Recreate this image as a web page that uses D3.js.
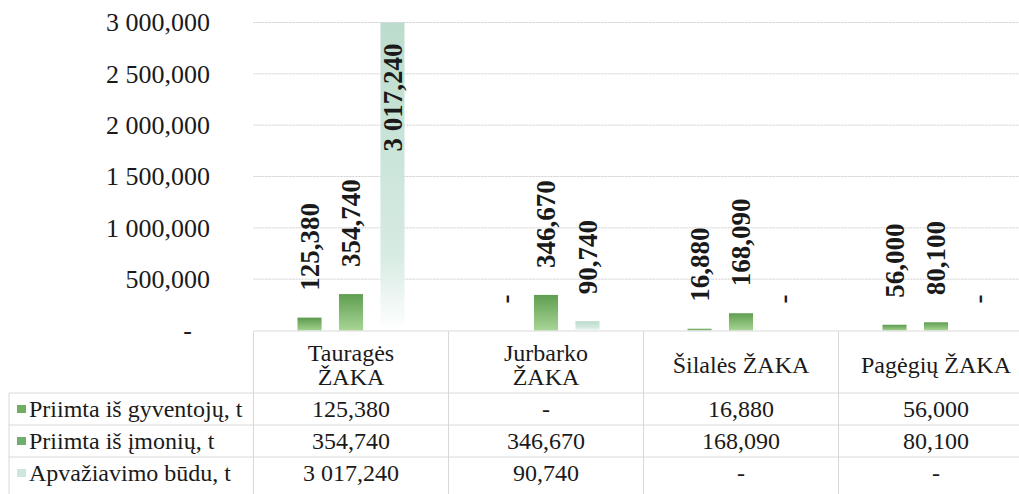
<!DOCTYPE html>
<html>
<head>
<meta charset="utf-8">
<script src="https://cdn.jsdelivr.net/npm/d3@7"></script>
<style>
  body { margin: 0; background: #fff; }
  svg { display: block; font-family: "Liberation Serif", "Times New Roman", serif; }
</style>
</head>
<body>
<div class="chart"></div>
<script>
const categories = ["Tauragės ŽAKA", "Jurbarko ŽAKA", "Šilalės ŽAKA", "Pagėgių ŽAKA"];
const headerLines = [["Tauragės", "ŽAKA"], ["Jurbarko", "ŽAKA"], ["Šilalės ŽAKA"], ["Pagėgių ŽAKA"]];
const seriesNames = ["Priimta iš gyventojų, t", "Priimta iš įmonių, t", "Apvažiavimo būdu, t"];
const gyventojai = [125.38, 0, 16.88, 56.0];
const imones = [354.74, 346.67, 168.09, 80.1];
const apvaziavimas = [3017.24, 90.74, 0, 0];
const yTicks = [0, 500, 1000, 1500, 2000, 2500, 3000];

const seriesValues = [gyventojai, imones, apvaziavimas];

const W = 1019, H = 494;
const left = 253.5, step = 195;
const plotTop = 22.5, base = 330.5;

const lt = d3.formatLocale({decimal: ",", thousands: " ", grouping: [3], currency: ["", ""]});
const num = lt.format(",.3f");
const fmt = v => v === 0 ? "-" : num(v);

const svg = d3.select(".chart").append("svg")
    .attr("width", W)
    .attr("height", H);

const defs = svg.append("defs");
function grad(id, stops) {
    const g = defs.append("linearGradient").attr("id", id)
        .attr("x1", 0).attr("y1", 0).attr("x2", 0).attr("y2", 1);
    stops.forEach(s => g.append("stop").attr("offset", s[0]).attr("stop-color", s[1]));
}
grad("g0", [[0, "#5a9a4c"], [1, "#a3d18f"]]);
grad("g1", [[0, "#5f9e50"], [1, "#a8d596"]]);
grad("g2", [[0, "#bcdccd"], [0.75, "#d6ebe2"], [1, "#ffffff"]]);
const legendColors = ["#72ad64", "#6fae70", "#cfe6df"];

const x0 = d3.scaleBand()
    .domain(categories)
    .range([left, left + step * categories.length]);

const x1 = d3.scaleBand()
    .domain(d3.range(seriesNames.length))
    .range([step / 2 - 53.5, step / 2 + 53.5])
    .paddingInner(0.42);

const y = d3.scaleLinear()
    .domain([0, 3000])
    .range([base, plotTop]);

// gridlines
svg.append("g")
    .selectAll("line")
    .data(yTicks.filter(d => d > 0))
    .enter()
    .append("line")
    .attr("x1", left).attr("x2", W)
    .attr("y1", d => y(d)).attr("y2", d => y(d))
    .attr("stroke", "#cfcfcf")
    .attr("stroke-dasharray", "2,1");

// y labels
const yAxis = d3.axisLeft(y)
    .tickValues(yTicks)
    .tickSize(0)
    .tickPadding(0)
    .tickFormat(fmt);

const ya = svg.append("g")
    .attr("transform", "translate(210,0)")
    .call(yAxis);
ya.select(".domain").remove();
ya.selectAll("text")
    .attr("font-size", "26px")
    .attr("font-family", "Liberation Serif, serif")
    .attr("fill", "#1a1a1a")
    .attr("dx", d => d === 0 ? -18 : 0);

// bars
const plot = svg.append("g");

const groups = plot.selectAll(".grp")
    .data(categories)
    .enter()
    .append("g")
    .attr("class", "grp")
    .attr("transform", d => `translate(${x0(d)},0)`);

groups.selectAll("rect")
    .data((c, ci) => seriesValues.map((vals, si) => ({si: si, v: vals[ci]})))
    .enter()
    .append("rect")
    .attr("x", d => x1(d.si))
    .attr("width", x1.bandwidth())
    .attr("y", d => y(Math.min(d.v, 3000)))
    .attr("height", d => base - y(Math.min(d.v, 3000)))
    .attr("fill", d => `url(#g${d.si})`);

groups.selectAll("text")
    .data((c, ci) => seriesValues.map((vals, si) => ({si: si, v: vals[ci]})))
    .enter()
    .append("text")
    .attr("transform", d => {
        const cx = x1(d.si) + x1.bandwidth() / 2;
        const yy = d.v > 3000 ? plotTop + 21 : y(d.v) - 27;
        return `translate(${cx},${yy}) rotate(-90)`;
    })
    .attr("dy", "0.35em")
    .attr("text-anchor", d => d.v > 3000 ? "end" : "start")
    .attr("font-size", "27px")
    .attr("font-weight", "bold")
    .attr("fill", "#1a1a1a")
    .text(d => fmt(d.v));

// data table
const rowTop = 331, headBottom = 393, rowH = 32;
const lineColor = "#d9d9d9";
const tbl = svg.append("g");

tbl.append("line")
    .attr("x1", left).attr("x2", W).attr("y1", rowTop).attr("y2", rowTop)
    .attr("stroke", lineColor);

seriesNames.forEach((s, i) => {
    const yy = headBottom + i * rowH;
    tbl.append("line")
        .attr("x1", 9).attr("x2", W).attr("y1", yy).attr("y2", yy)
        .attr("stroke", lineColor);
});

tbl.append("line")
    .attr("x1", 9).attr("x2", 9).attr("y1", headBottom).attr("y2", H)
    .attr("stroke", lineColor);

tbl.selectAll(".vline")
    .data(categories)
    .enter()
    .append("line")
    .attr("class", "vline")
    .attr("x1", d => x0(d)).attr("x2", d => x0(d))
    .attr("y1", rowTop).attr("y2", H)
    .attr("stroke", lineColor);

// header cells
tbl.selectAll(".head")
    .data(categories)
    .enter()
    .append("text")
    .attr("class", "head")
    .attr("x", d => x0(d) + step / 2)
    .attr("y", (d, i) => headerLines[i].length > 1 ? 361 : 373)
    .attr("text-anchor", "middle")
    .attr("font-size", "24px")
    .attr("fill", "#1a1a1a")
    .each(function(d, i) {
        const t = d3.select(this);
        headerLines[i].forEach((ln, k) => {
            t.append("tspan")
                .attr("x", x0(d) + step / 2)
                .attr("dy", k === 0 ? 0 : 24)
                .text(ln);
        });
    });

// legend keys + row labels
seriesNames.forEach((s, i) => {
    const cy = headBottom + i * rowH + rowH / 2;
    tbl.append("rect")
        .attr("x", 17).attr("y", cy - 4)
        .attr("width", 9).attr("height", 8)
        .attr("fill", legendColors[i]);
    tbl.append("text")
        .attr("x", 29).attr("y", cy + 8)
        .attr("font-size", "24px")
        .attr("fill", "#1a1a1a")
        .text(s);
    tbl.selectAll(".cell" + i)
        .data(categories)
        .enter()
        .append("text")
        .attr("x", d => x0(d) + step / 2)
        .attr("y", cy + 8)
        .attr("text-anchor", "middle")
        .attr("font-size", "24px")
        .attr("fill", "#1a1a1a")
        .text((d, ci) => fmt(seriesValues[i][ci]));
});
</script>
</body>
</html>
